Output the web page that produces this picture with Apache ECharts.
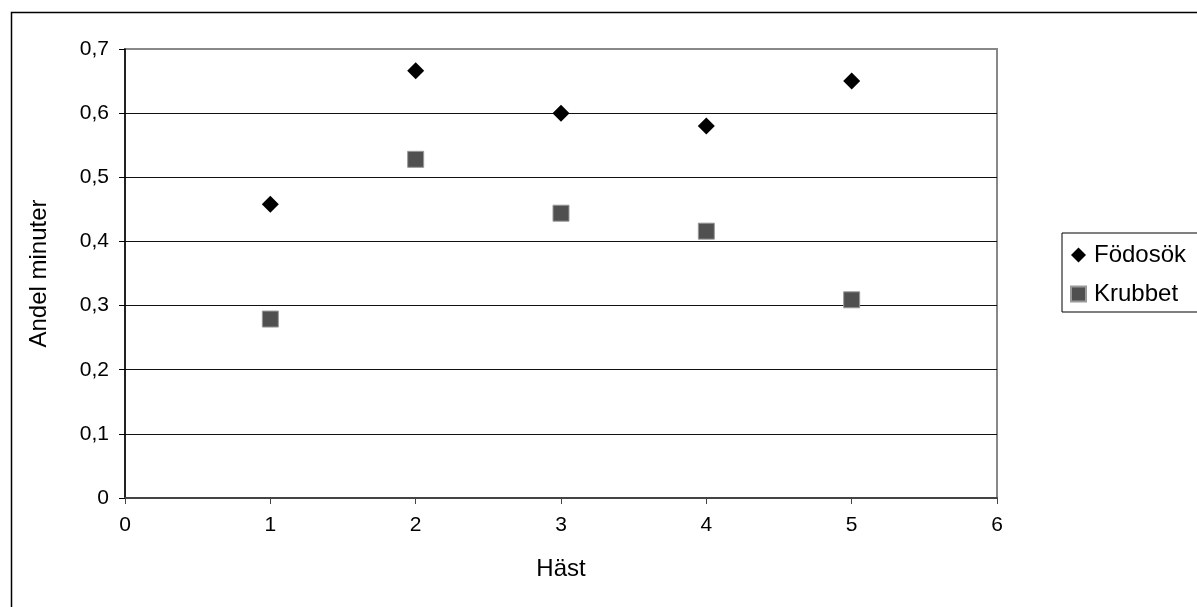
<!DOCTYPE html>
<html>
<head>
<meta charset="utf-8">
<script src="https://cdn.jsdelivr.net/npm/echarts@6/dist/echarts.min.js"></script>
<style>
  html, body { margin: 0; padding: 0; background: #fff; }
  #chart { width: 1197px; height: 607px; }
</style>
</head>
<body>
<div id="chart"></div>
<script>
// Horse number on the x axis, share of minutes on the y axis
const hast = [1, 2, 3, 4, 5];
const fodosok = [0.458, 0.666, 0.600, 0.580, 0.650];
const krubbet = [0.279, 0.528, 0.444, 0.416, 0.309];
const yTicks = [0, 0.1, 0.2, 0.3, 0.4, 0.5, 0.6, 0.7];

const FONT = 'Liberation Sans, Arial, sans-serif';
const pairs = (xs, ys) => xs.map((x, i) => [x, ys[i]]);
const comma = v => (v === 0 ? '0' : v.toFixed(1).replace('.', ','));

const chart = echarts.init(document.getElementById('chart'), null, { renderer: 'canvas' });
chart.setOption({
  animation: false,
  backgroundColor: '#fff',
  textStyle: { fontFamily: FONT, color: '#000' },
  grid: {
    left: 125, right: 200, top: 49, bottom: 109,
    show: true, borderColor: '#888', borderWidth: 2, backgroundColor: 'transparent'
  },
  graphic: [{
    type: 'rect',
    shape: { x: 11.5, y: 12.5, width: 1400, height: 800 },
    style: { fill: 'none', stroke: '#000', lineWidth: 1.5 },
    silent: true
  }],
  legend: {
    orient: 'vertical',
    left: 1062, top: 233,
    padding: [10, 40, 6, 8],
    itemWidth: 15, itemHeight: 15, itemGap: 15,
    borderColor: '#000', borderWidth: 1,
    textStyle: { fontFamily: FONT, fontSize: 24, color: '#000', padding: [0, 0, 0, 3] },
    data: [
      { name: 'Födosök', icon: 'diamond' },
      { name: 'Krubbet', icon: 'rect' }
    ]
  },
  xAxis: {
    type: 'value', min: 0, max: 6, interval: 1,
    name: 'Häst', nameLocation: 'middle', nameGap: 59,
    nameTextStyle: { fontFamily: FONT, fontSize: 24, color: '#000' },
    axisLine: { show: true, onZero: false, lineStyle: { color: '#444', width: 2 } },
    axisTick: { show: true, inside: false, length: 6, lineStyle: { color: '#444', width: 1 } },
    axisLabel: { fontFamily: FONT, fontSize: 21, color: '#000', margin: 17 },
    splitLine: { show: false }
  },
  yAxis: {
    type: 'value', min: 0, max: 0.7, interval: 0.1,
    name: 'Andel minuter', nameLocation: 'middle', nameGap: 74, nameRotate: 90,
    nameTextStyle: { fontFamily: FONT, fontSize: 24, color: '#000' },
    axisLine: { show: true, onZero: false, lineStyle: { color: '#000', width: 1.5 } },
    axisTick: { show: true, inside: false, length: 6, lineStyle: { color: '#000', width: 1 } },
    axisLabel: {
      fontFamily: FONT, fontSize: 21, color: '#000', margin: 16,
      formatter: v => comma(v)
    },
    splitLine: {
      show: true,
      lineStyle: { color: yTicks.map((t, i) => (i === yTicks.length - 1 ? '#888' : '#111')), width: 1 }
    }
  },
  series: [
    {
      name: 'Födosök', type: 'scatter', symbol: 'diamond', symbolSize: 17,
      itemStyle: { color: '#000', opacity: 1 },
      data: pairs(hast, fodosok)
    },
    {
      name: 'Krubbet', type: 'scatter', symbol: 'rect', symbolSize: 16,
      itemStyle: { color: '#505050', borderColor: '#999', borderWidth: 1, opacity: 1 },
      data: pairs(hast, krubbet)
    }
  ]
});
</script>
</body>
</html>
